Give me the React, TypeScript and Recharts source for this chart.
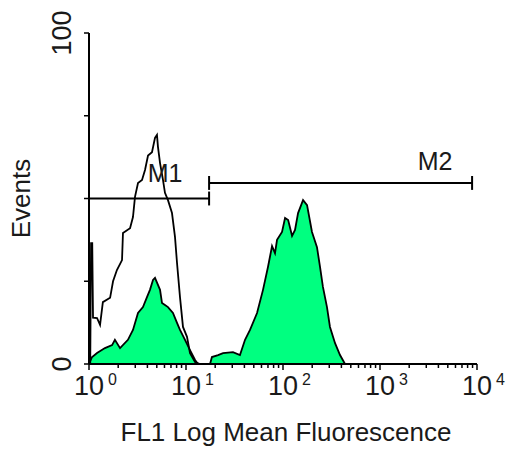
import { ComposedChart, Area, Line, XAxis, YAxis, ReferenceLine, ReferenceDot, Label } from 'recharts';

// unstained control (open histogram)
const openX = [1.0, 1.03, 1.05, 1.08, 1.1, 1.21, 1.3, 1.39, 1.65, 1.77, 1.94, 2.19, 2.24, 2.65, 2.84, 2.98, 3.2, 3.52, 3.78, 4.06, 4.46, 4.79, 5.02, 5.14, 5.4, 5.79, 6.07, 6.52, 7.17, 7.7, 8.08, 8.67, 9.31, 10.24, 11.0, 12.4, 13.9, 18.0];
const openY = [0, 0, 36.5, 36.5, 14, 13.9, 11.8, 18.7, 20, 25, 28.4, 31.4, 39.6, 41, 44.4, 50.5, 54.7, 55.6, 58.6, 63, 64, 68.3, 69.2, 65.6, 60.7, 55.6, 51.7, 49.5, 45.6, 38.4, 30.5, 20.2, 11.2, 8.2, 3.3, 0.6, 0, 0];

// stained sample (filled histogram)
const filledX = [1.0, 1.07, 1.21, 1.46, 1.73, 1.85, 2.09, 2.52, 2.84, 3.2, 3.6, 3.96, 4.25, 4.57, 4.79, 5.4, 5.66, 6.07, 6.52, 7.34, 8.08, 8.67, 9.77, 11.0, 12.4, 13.3, 17.7, 18.5, 21.4, 24.1, 30.5, 36.0, 40.6, 45.7, 54.0, 62.2, 70.0, 77.1, 82.7, 86.8, 97.7, 105, 113, 124, 133, 143, 161, 177, 199, 224, 241, 258, 284, 305, 344, 387, 436];
const filledY = [0, 2, 3.3, 4.8, 5.7, 7.3, 4.8, 7.3, 10.3, 15.4, 17.2, 20.2, 22.4, 25.4, 26, 22.4, 18.4, 17.8, 17.2, 15.4, 12.4, 10.3, 7.3, 4.2, 1.2, 0, 0, 2.1, 2.7, 3.3, 3.6, 2.7, 7.3, 10.3, 15.4, 22.4, 29.3, 35.6, 33.5, 37.5, 39.9, 44.1, 43.5, 38.7, 40.5, 45.6, 49.5, 48, 39.9, 35.3, 29.3, 23.3, 17.2, 11.2, 6.3, 2.7, 0];

// marker gates
const gateNames = ['M1', 'M2'];
const gateStart = [1, 17.3];
const gateEnd = [17.3, 8900];
const gateLevel = [50, 54.7];
const gateLabelX = [6.1, 3700];
const gateLabelY = [57.7, 61.3];

const decades = [1, 10, 100, 1000, 10000];
const minorSteps = [2, 3, 4, 5, 6, 7, 8, 9];
const yTicks = [0, 25, 50, 75, 100];
const yLabelled = [0, 100];

const xTicks: number[] = [];
decades.forEach((d, i) => {
  xTicks.push(d);
  if (i < decades.length - 1) minorSteps.forEach((m) => xTicks.push(d * m));
});

const rows: Record<number, { x: number; open?: number; filled?: number }> = {};
openX.forEach((x, i) => {
  rows[x] = { ...(rows[x] || { x }), open: openY[i] };
});
filledX.forEach((x, i) => {
  rows[x] = { ...(rows[x] || { x }), filled: filledY[i] };
});
const data = Object.values(rows).sort((a, b) => a.x - b.x);

const FONT = '"Liberation Sans", Arial, sans-serif';
const INK = '#1a1a1a';

const XTick = (props: any) => {
  const { x, y, payload } = props;
  const v = payload.value;
  const exp = Math.round(Math.log10(v));
  const major = decades.includes(v);
  return (
    <g>
      <line x1={x} x2={x} y1={y} y2={y + (major ? 6 : 4)} stroke="#000" strokeWidth={1.5} />
      {major && (
        <>
          <text x={x} y={y + 31} textAnchor="middle" fontSize={27} fontFamily={FONT} fill={INK}>10</text>
          <text x={x + 19} y={y + 21} fontSize={16} fontFamily={FONT} fill={INK}>{exp}</text>
        </>
      )}
    </g>
  );
};

const YTick = (props: any) => {
  const { x, y, payload } = props;
  const lx = x - 27;
  return (
    <g>
      <line x1={x - 5} x2={x} y1={y} y2={y} stroke="#000" strokeWidth={1.5} />
      {yLabelled.includes(payload.value) && (
        <text
          x={lx}
          y={y}
          transform={`rotate(-90 ${lx} ${y})`}
          textAnchor="middle"
          dominantBaseline="central"
          fontSize={27}
          fontFamily={FONT}
          fill={INK}
        >
          {payload.value}
        </text>
      )}
    </g>
  );
};

const GateLabel = (text: string) => (props: any) => {
  const { viewBox } = props;
  const cx = viewBox.cx ?? viewBox.x;
  const cy = viewBox.cy ?? viewBox.y;
  return (
    <text x={cx} y={cy} textAnchor="middle" dominantBaseline="central" fontSize={25} fontFamily={FONT} fill={INK}>
      {text}
    </text>
  );
};

export default function App() {
  return (
    <div style={{ position: 'absolute', left: 0, top: 0, background: '#fff' }}>
      <ComposedChart width={506} height={449} data={data} margin={{ top: 33, right: 29, left: 0, bottom: 0 }}>
        <XAxis
          dataKey="x"
          type="number"
          scale="log"
          domain={[1, 10000]}
          allowDataOverflow
          ticks={xTicks}
          interval={0}
          tickSize={0}
          tickMargin={0}
          tick={<XTick />}
          height={85}
          axisLine={{ stroke: '#000', strokeWidth: 2 }}
          label={
            <Label
              content={(p: any) => (
                <text
                  x={p.viewBox.x + p.viewBox.width / 2 + 3}
                  y={p.viewBox.y + 68}
                  textAnchor="middle"
                  dominantBaseline="central"
                  fontSize={26}
                  fontFamily={FONT}
                  fill={INK}
                >
                  FL1 Log Mean Fluorescence
                </text>
              )}
            />
          }
        />
        <YAxis
          type="number"
          domain={[0, 100]}
          ticks={yTicks}
          interval={0}
          tickSize={0}
          tickMargin={0}
          tick={<YTick />}
          width={89}
          axisLine={{ stroke: '#000', strokeWidth: 2 }}
          label={
            <Label
              content={(p: any) => {
                const cx = 21;
                const cy = p.viewBox.y + p.viewBox.height / 2;
                return (
                  <text
                    x={cx}
                    y={cy}
                    transform={`rotate(-90 ${cx} ${cy})`}
                    textAnchor="middle"
                    dominantBaseline="central"
                    fontSize={26}
                    fontFamily={FONT}
                    fill={INK}
                  >
                    Events
                  </text>
                );
              }}
            />
          }
        />
        <Area
          type="linear"
          dataKey="filled"
          stroke="#000"
          strokeWidth={1.8}
          fill="#00FF80"
          fillOpacity={1}
          connectNulls
          dot={false}
          activeDot={false}
          isAnimationActive={false}
        />
        <Line
          type="linear"
          dataKey="open"
          stroke="#000"
          strokeWidth={1.8}
          connectNulls
          dot={false}
          activeDot={false}
          isAnimationActive={false}
        />
        {gateNames.map((name, i) => (
          <ReferenceLine
            key={name + 'h'}
            segment={[{ x: gateStart[i], y: gateLevel[i] }, { x: gateEnd[i], y: gateLevel[i] }]}
            stroke="#000"
            strokeWidth={2}
            ifOverflow="visible"
          />
        ))}
        {gateNames.map((name, i) =>
          [gateStart[i], gateEnd[i]].map((gx, j) => (
            <ReferenceLine
              key={name + 'v' + j}
              segment={[{ x: gx, y: gateLevel[i] - 2.1 }, { x: gx, y: gateLevel[i] + 2.1 }]}
              stroke="#000"
              strokeWidth={2}
              ifOverflow="visible"
            />
          ))
        )}
        {gateNames.map((name, i) => (
          <ReferenceDot
            key={name + 'l'}
            x={gateLabelX[i]}
            y={gateLabelY[i]}
            r={0}
            fill="none"
            stroke="none"
            ifOverflow="visible"
            label={GateLabel(name)}
          />
        ))}
      </ComposedChart>
    </div>
  );
}
